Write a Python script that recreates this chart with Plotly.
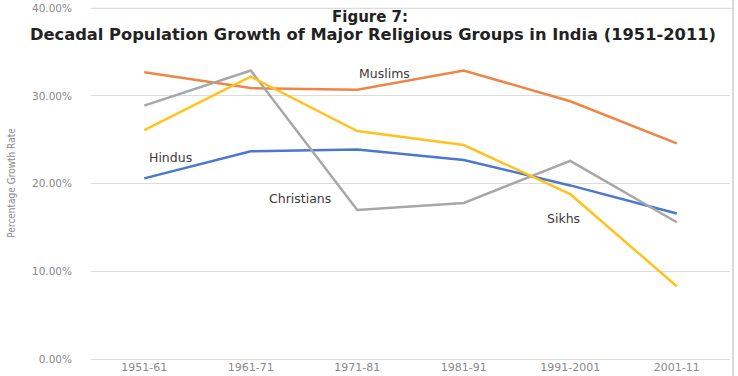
import plotly.graph_objects as go

periods = ["1951-61", "1961-71", "1971-81", "1981-91", "1991-2001", "2001-11"]
muslims = [32.7, 30.9, 30.7, 32.9, 29.4, 24.6]
hindus = [20.6, 23.7, 23.9, 22.7, 19.8, 16.6]
christians = [28.9, 32.9, 17.0, 17.8, 22.6, 15.6]
sikhs = [26.1, 32.2, 26.0, 24.4, 18.8, 8.3]
y_ticks = [0, 10, 20, 30, 40]
y_tick_text = ["0.00%", "10.00%", "20.00%", "30.00%", "40.00%"]

series = [
    ("Muslims", muslims, "#EF8544"),
    ("Hindus", hindus, "#4A78CF"),
    ("Christians", christians, "#A7A7A7"),
    ("Sikhs", sikhs, "#FFC21F"),
]

fig = go.Figure()
for name, vals, col in series:
    fig.add_trace(go.Scatter(x=periods, y=vals, mode="lines", name=name,
                             line=dict(color=col, width=2.5), showlegend=False))

labels = [
    ("Muslims", "1971-81", muslims[2], 0, 16),
    ("Hindus", "1951-61", hindus[0], 3, 21),
    ("Christians", "1971-81", christians[2], -90, 11),
    ("Sikhs", "1991-2001", sikhs[4], -25, -24),
]
for text, xc, yv, dx, dy in labels:
    fig.add_annotation(x=xc, y=yv, text=text, showarrow=False, xanchor="left",
                       xshift=dx, yshift=dy,
                       font=dict(family="DejaVu Sans", size=12.5, color="#3a3a3a"))

fig.add_annotation(xref="paper", yref="paper", x=0.437, y=1.0, yshift=-10,
                   text="<b>Figure 7:</b>", showarrow=False, xanchor="center", yanchor="middle",
                   font=dict(family="DejaVu Sans", size=15, color="#222222"))
fig.add_annotation(xref="paper", yref="paper", x=0.441, y=1.0, yshift=-27,
                   text="<b>Decadal Population Growth of Major Religious Groups in India (1951-2011)</b>",
                   showarrow=False, xanchor="center", yanchor="middle",
                   font=dict(family="DejaVu Sans", size=16.3, color="#222222"))

fig.add_shape(type="line", xref="paper", yref="paper", x0=1.0047, x1=1.0047, y0=-0.2, y1=1.1,
              line=dict(color="#CFCFCF", width=1.5))
fig.add_shape(type="line", xref="paper", yref="y", x0=0, x1=1.0047, y0=y_ticks[-1], y1=y_ticks[-1],
              layer="below", line=dict(color="#DCDCDC", width=1))

fig.update_layout(
    width=738, height=376,
    margin=dict(l=91, r=8, t=7, b=17),
    paper_bgcolor="white", plot_bgcolor="white",
    xaxis=dict(type="category", range=[-0.5, 5.5], automargin=False,
               showgrid=False, showline=False, zeroline=False,
               tickfont=dict(family="DejaVu Sans", size=11, color="#8a8a8a"),
               ticks="", ticklabelstandoff=0),
    yaxis=dict(range=[0, 40.15], tickvals=y_ticks, ticktext=y_tick_text, automargin=False,
               showgrid=True, gridcolor="#DCDCDC", gridwidth=1, zeroline=True,
               zerolinecolor="#DCDCDC", zerolinewidth=1,
               tickfont=dict(family="DejaVu Sans", size=10.5, color="#8a8a8a"),
               ticklabelstandoff=18,
               title=dict(text="Percentage Growth Rate", standoff=14,
                          font=dict(family="DejaVu Sans Condensed, Liberation Sans", size=10,
                                    color="#8a8a8a"))),
)

fig.write_html("out.html", config={"displayModeBar": False},
               post_script="document.body.style.margin='0';")
